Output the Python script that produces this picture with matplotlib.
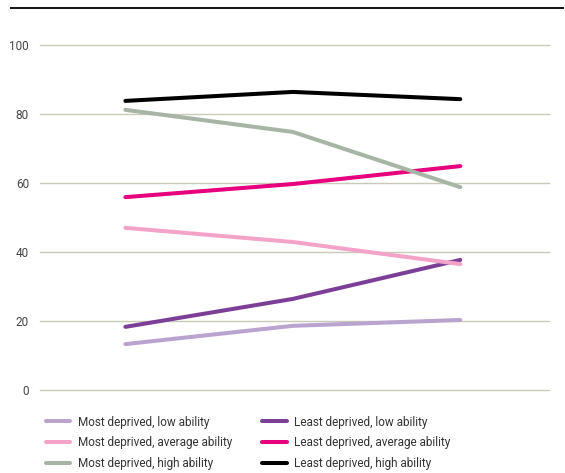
import matplotlib
matplotlib.use("Agg")
import matplotlib.pyplot as plt
from matplotlib.lines import Line2D

# Three time points (unlabelled on the chart)
stages = [0, 1, 2]

most_low = [13.3, 18.6, 20.3]
most_avg = [47.0, 42.9, 36.5]
most_high = [81.2, 74.8, 58.8]
least_low = [18.3, 26.4, 37.7]
least_avg = [55.9, 59.7, 64.9]
least_high = [83.8, 86.4, 84.3]

series_labels = [
    "Most deprived, low ability",
    "Most deprived, average ability",
    "Most deprived, high ability",
    "Least deprived, low ability",
    "Least deprived, average ability",
    "Least deprived, high ability",
]
series_values = [most_low, most_avg, most_high, least_low, least_avg, least_high]
series_colors = ["#bba3d0", "#f4a3c8", "#a8b4a5", "#7b3f98", "#e6007e", "#000000"]

y_ticks = [0, 20, 40, 60, 80, 100]

plt.rcParams["font.family"] = ["Roboto", "DejaVu Sans"]

fig = plt.figure(figsize=(5.65, 4.73), dpi=100)
ax = fig.add_axes([40 / 565, 1 - 390 / 473, (549 - 40) / 565, (390 - 45) / 473])
ax.set_xlim(-0.51, 2.53)
ax.set_ylim(0, 100)

for t in y_ticks:
    ax.axhline(t, color="#c9cbb8", lw=1.0, zorder=1, clip_on=False)

# Plot bottom-up so the darker series sit on top
draw_order = [0, 3, 1, 4, 2, 5]
for i in draw_order:
    ax.plot(stages, series_values[i], color=series_colors[i], lw=2.9,
            solid_capstyle="round", zorder=3)

for s in ax.spines.values():
    s.set_visible(False)
ax.set_xticks([])
ax.set_yticks(y_ticks)
ax.set_yticklabels([str(t) for t in y_ticks], fontsize=8.5, color="#444444")
ax.tick_params(axis="y", length=0, pad=8)

# Rule across the top of the figure
fig.add_artist(Line2D([11 / 565, 563 / 565], [1 - 8 / 473, 1 - 8 / 473],
                      color="#111111", lw=1.4, transform=fig.transFigure))

handles = [Line2D([0], [0], color=c, lw=2.9, solid_capstyle="round") for c in series_colors]
fig.legend(handles, series_labels, ncol=2, loc="upper left",
           bbox_to_anchor=(35 / 565, 1 - 405 / 473), frameon=False,
           fontsize=8.5, handlelength=2.1, handletextpad=0.6,
           columnspacing=2.6, labelspacing=0.65, labelcolor="#333333")

fig.savefig("out.png", dpi=100)
